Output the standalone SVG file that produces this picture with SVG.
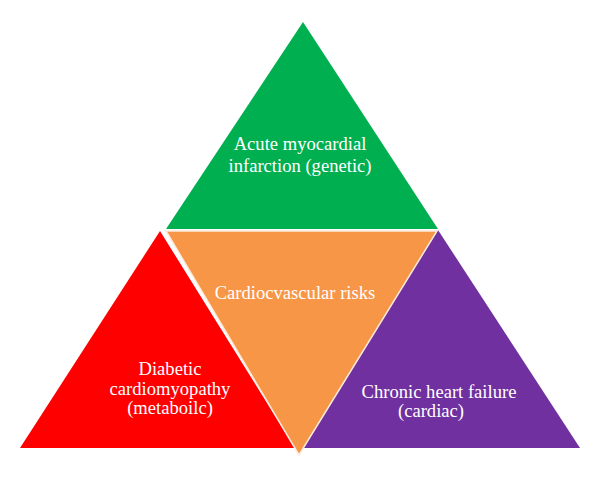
<svg xmlns="http://www.w3.org/2000/svg" width="600" height="479" viewBox="0 0 600 479">
<style>
.t{font-family:"Liberation Serif","DejaVu Serif",serif;font-size:18.6px;fill:#ffffff;text-anchor:middle}
.edge{stroke:#fdebdc;stroke-width:1.5;stroke-linejoin:miter}
</style>
<rect width="600" height="479" fill="#ffffff"/>
<g id="connectors"></g>
<g id="node-green">
<polygon points="303,22 166,229 438,229" fill="#00b050"/>
<text class="t" x="300" y="150">Acute myocardial</text>
<text class="t" x="300" y="172">infarction (genetic)</text>
</g>
<g id="node-red">
<polygon points="160,231 20,448 295,448" fill="#ff0000"/>
<text class="t" x="170" y="375">Diabetic</text>
<text class="t" x="170" y="395">cardiomyopathy</text>
<text class="t" x="170" y="414">(metaboilc)</text>
</g>
<g id="node-purple">
<polygon points="438,230 300,448 580,448" fill="#7030a0"/>
<text class="t" x="439" y="398">Chronic heart failure</text>
<text class="t" x="431" y="417">(cardiac)</text>
</g>
<g id="node-orange">
<polygon class="edge" points="166,231 437,231 299,455" fill="#f79646"/>
<text class="t" x="295" y="299">Cardiocvascular risks</text>
</g>
</svg>
